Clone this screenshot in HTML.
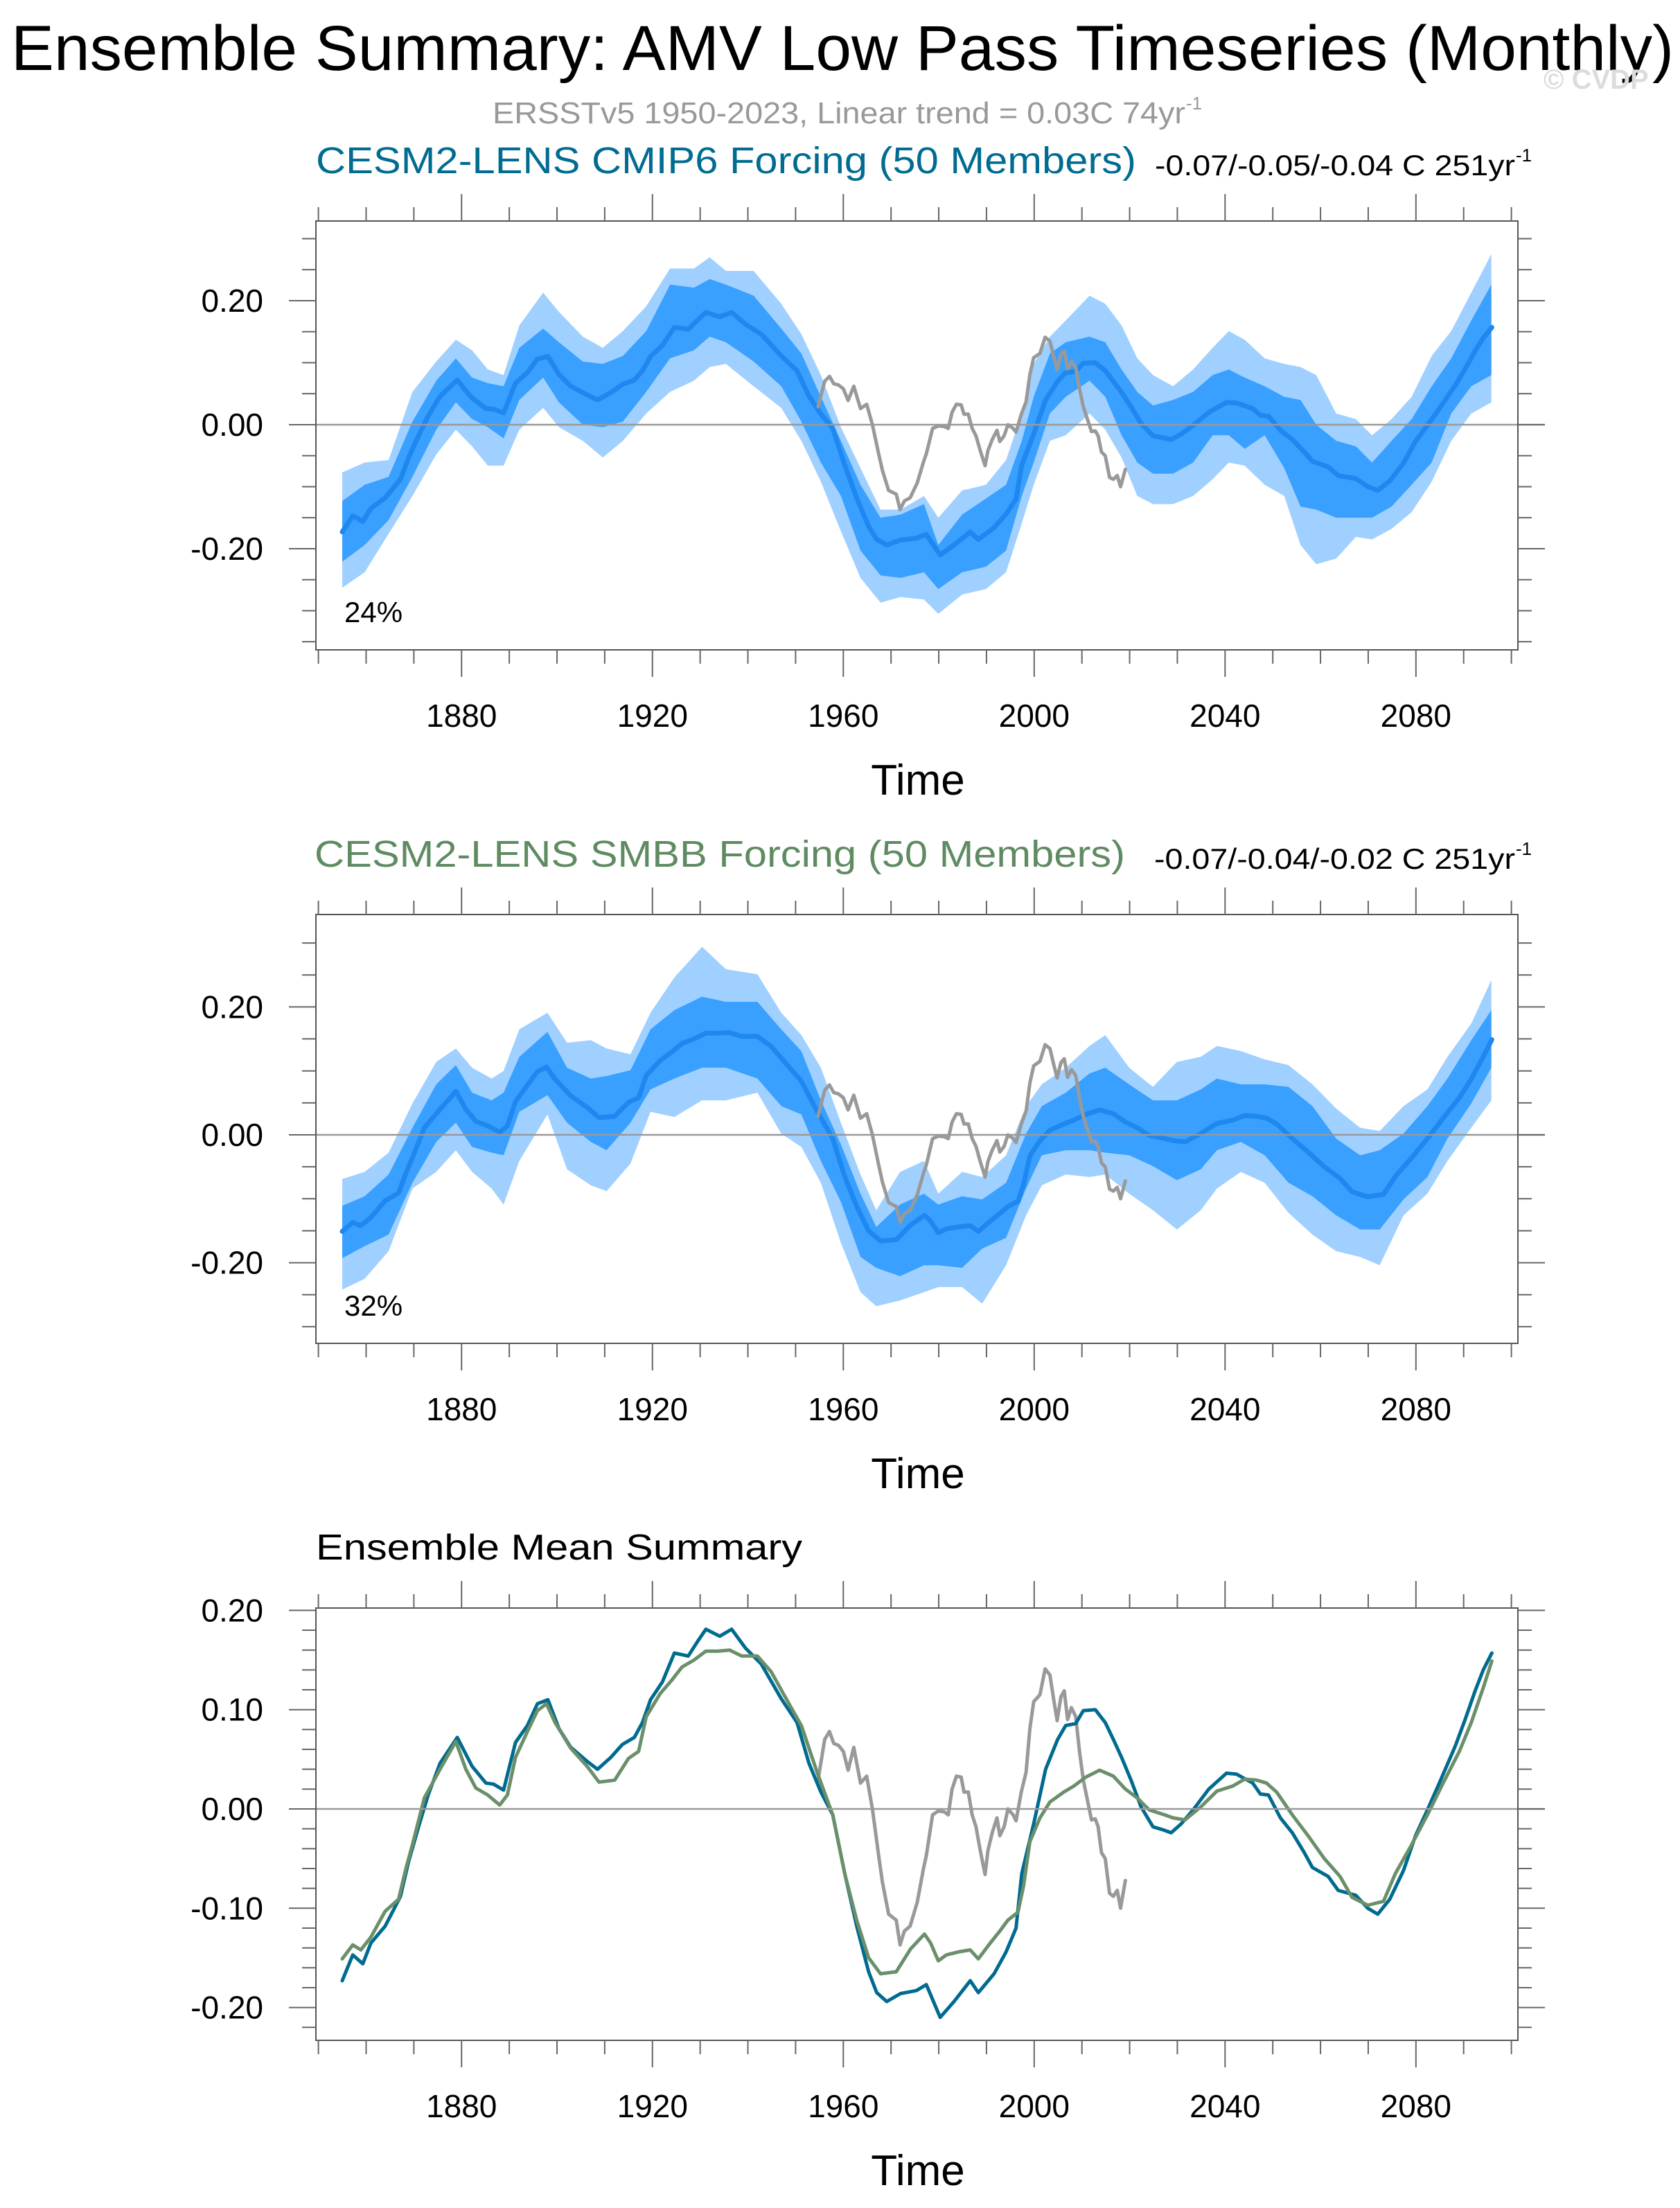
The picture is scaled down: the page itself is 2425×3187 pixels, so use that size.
<!DOCTYPE html>
<html><head><meta charset="utf-8"><style>
html,body{margin:0;padding:0;background:#fff;}
svg{display:block;font-family:"Liberation Sans",Arial,sans-serif;}
</style></head><body>
<svg id="chart" xmlns="http://www.w3.org/2000/svg" width="2425" height="3187" viewBox="0 0 2425 3187">
<rect width="2425" height="3187" fill="#fff"/>
<text x="16" y="101" font-size="92" textLength="2400" lengthAdjust="spacingAndGlyphs" fill="#000">Ensemble Summary: AMV Low Pass Timeseries (Monthly)</text>
<text x="2228" y="128" font-size="40" font-weight="bold" fill="#dcdcdc">© CVDP</text>
<text x="711" y="178" font-size="44" fill="#999" textLength="1000" lengthAdjust="spacingAndGlyphs">ERSSTv5 1950-2023, Linear trend = 0.03C 74yr</text>
<text x="1712" y="158" font-size="26" fill="#999">-1</text>

<text x="456" y="250" font-size="54" fill="#006c91" textLength="1184" lengthAdjust="spacingAndGlyphs">CESM2-LENS CMIP6 Forcing (50 Members)</text>
<text x="1667" y="253" font-size="42" fill="#000" textLength="520" lengthAdjust="spacingAndGlyphs">-0.07/-0.05/-0.04 C 251yr</text>
<text x="2188" y="233" font-size="26" fill="#000">-1</text>

<text x="454" y="1251" font-size="54" fill="#5f8b62" textLength="1170" lengthAdjust="spacingAndGlyphs">CESM2-LENS SMBB Forcing (50 Members)</text>
<text x="1666" y="1254" font-size="42" fill="#000" textLength="521" lengthAdjust="spacingAndGlyphs">-0.07/-0.04/-0.02 C 251yr</text>
<text x="2188" y="1234" font-size="26" fill="#000">-1</text>

<text x="456" y="2251" font-size="52" fill="#000" textLength="702" lengthAdjust="spacingAndGlyphs">Ensemble Mean Summary</text>
<g id="plots"></g>
</svg>
<script>
// ---- data ----
const cmipYears=[1855,1857.2,1859.3,1861,1864,1867.2,1868.9,1871,1873,1875.5,1879.1,1882.2,1885.1,1886.7,1888.8,1891.3,1893.8,1895.9,1898.1,1900.4,1902.9,1906.3,1908.5,1911.3,1913.7,1916.2,1917.9,1919.6,1922.1,1924.6,1927.5,1929.5,1931.2,1934.1,1936.6,1939.5,1942.8,1947,1950.3,1952.8,1955.3,1957.8,1960.3,1962.8,1965.3,1967,1969.1,1972,1975.3,1977.4,1980.3,1983.2,1986.6,1988.3,1991.6,1994.1,1996.2,1997.4,1999.9,2002.4,2004.9,2006.6,2008.7,2010.3,2012.8,2014.9,2016.6,2018.3,2020.3,2022.4,2024.9,2027,2028.7,2030.8,2033.3,2036.6,2040.3,2042.4,2045.8,2047.4,2049.1,2051.6,2054.1,2056.6,2058.3,2061.6,2063.7,2067.4,2069.9,2072,2074.5,2077.4,2079.9,2082.4,2084.9,2088.3,2090.3,2092.4,2094.1,2095.9];
const cmipMean=[-0.173,-0.147,-0.156,-0.135,-0.118,-0.088,-0.053,-0.018,0.014,0.046,0.072,0.043,0.026,0.025,0.019,0.067,0.084,0.106,0.11,0.081,0.062,0.048,0.040,0.052,0.065,0.072,0.087,0.11,0.128,0.157,0.154,0.169,0.181,0.174,0.181,0.162,0.146,0.111,0.087,0.046,0.017,-0.006,-0.065,-0.118,-0.164,-0.185,-0.194,-0.186,-0.183,-0.177,-0.21,-0.194,-0.173,-0.185,-0.166,-0.144,-0.12,-0.065,-0.015,0.040,0.070,0.084,0.086,0.099,0.100,0.087,0.070,0.052,0.029,0.002,-0.018,-0.021,-0.024,-0.015,-0.001,0.020,0.036,0.035,0.026,0.015,0.014,-0.009,-0.024,-0.044,-0.059,-0.068,-0.082,-0.087,-0.1,-0.106,-0.091,-0.062,-0.027,-0.001,0.026,0.064,0.09,0.119,0.14,0.157];
const smbbYears=[1855,1857.2,1858.9,1861,1864,1866.8,1868.4,1869.7,1872.2,1875.5,1878.8,1880.9,1883,1885.5,1888,1889.6,1891.3,1893.8,1895.9,1897.8,1899.6,1902.9,1906.3,1908.8,1912.1,1915,1917.1,1918.7,1921.6,1924.1,1926.2,1928.7,1931.2,1933.7,1936.2,1938.7,1942,1944.9,1947.8,1951.2,1954.5,1957.8,1960.3,1962.8,1965.3,1967.8,1971.1,1974.1,1977,1978.3,1979.9,1981.6,1984.1,1986.6,1988.3,1990.8,1992.8,1994.5,1996.6,1997.8,1999.1,2001.2,2003.3,2006.2,2008.3,2010.8,2013.7,2016.6,2019.1,2021.6,2024.1,2027.4,2029.1,2031.6,2034.9,2038.3,2041.6,2044.1,2046.6,2048.7,2050.8,2054.1,2057.4,2060.8,2064.1,2066.6,2069.9,2073.2,2075.7,2079.1,2082.4,2085.7,2089.1,2091.6,2094.1,2095.9];
const smbbMean=[-0.151,-0.137,-0.142,-0.129,-0.103,-0.091,-0.059,-0.036,0.011,0.040,0.068,0.04,0.021,0.014,0.004,0.014,0.052,0.078,0.099,0.106,0.087,0.061,0.043,0.027,0.029,0.051,0.058,0.093,0.116,0.13,0.143,0.15,0.159,0.159,0.160,0.154,0.154,0.138,0.113,0.084,0.037,-0.006,-0.065,-0.112,-0.15,-0.166,-0.164,-0.141,-0.126,-0.135,-0.153,-0.147,-0.144,-0.142,-0.151,-0.135,-0.123,-0.112,-0.104,-0.077,-0.033,-0.009,0.007,0.017,0.023,0.032,0.039,0.033,0.02,0.011,-0.001,-0.006,-0.009,-0.011,0.002,0.018,0.023,0.030,0.029,0.026,0.017,-0.006,-0.027,-0.050,-0.068,-0.089,-0.097,-0.093,-0.065,-0.036,-0.006,0.026,0.058,0.087,0.122,0.149];
const obsYears=[1954.7,1956.1,1957.1,1958,1959,1960,1961,1962.2,1963.6,1964.9,1966.1,1967.4,1968.2,1969.5,1971.1,1971.9,1972.8,1974,1975.5,1976.8,1977.4,1978.7,1979.9,1981.2,1982,1982.8,1983.7,1984.7,1985.3,1986.2,1987,1987.8,1988.7,1989.7,1990.3,1991.2,1992.2,1992.8,1993.7,1994.5,1995.6,1996.2,1997.3,1998.3,1999.1,1999.9,2001.2,2002.3,2003.3,2004.1,2004.8,2005.6,2006.3,2007,2007.8,2008.7,2009.5,2010.3,2011.2,2012,2012.8,2013.4,2014.1,2014.9,2015.8,2016.6,2017.4,2018.1,2019.1];
const obsValues=[0.029,0.07,0.078,0.066,0.064,0.058,0.039,0.062,0.026,0.033,0,-0.047,-0.074,-0.106,-0.112,-0.137,-0.123,-0.118,-0.094,-0.06,-0.047,-0.006,-0.002,-0.003,-0.006,0.02,0.033,0.032,0.017,0.017,-0.006,-0.018,-0.042,-0.066,-0.042,-0.024,-0.009,-0.027,-0.018,0,-0.006,-0.012,0.017,0.037,0.081,0.108,0.115,0.141,0.135,0.11,0.089,0.113,0.119,0.090,0.102,0.093,0.058,0.029,0.008,-0.011,-0.01,-0.018,-0.044,-0.050,-0.085,-0.088,-0.082,-0.1,-0.072];

const p1Years=[1855,1859.7,1864.7,1869.7,1874.7,1878.8,1882.2,1885.5,1888.8,1892.1,1897.1,1900.4,1905.4,1909.6,1913.8,1918.7,1923.7,1928.7,1932,1935.4,1941.2,1947,1951.2,1955.3,1959.5,1963.6,1967.8,1972,1976.9,1979.9,1984.9,1989.9,1994.1,1997.4,1999.9,2003.3,2006.6,2011.6,2014.9,2018.3,2021.6,2024.9,2029.1,2033.3,2037.4,2040.8,2044.1,2048.3,2052.4,2055.8,2059.1,2063.3,2067.4,2070.8,2074.9,2079.1,2083.3,2087.4,2091.6,2095.8];
const p1OuterHi=[-0.077,-0.061,-0.057,0.053,0.102,0.137,0.12,0.089,0.08,0.16,0.213,0.182,0.142,0.124,0.151,0.191,0.252,0.252,0.27,0.248,0.248,0.195,0.146,0.08,-0.004,-0.07,-0.137,-0.137,-0.115,-0.15,-0.106,-0.097,-0.057,0.018,0.098,0.142,0.168,0.208,0.195,0.16,0.107,0.08,0.062,0.089,0.124,0.151,0.137,0.107,0.098,0.093,0.08,0.018,0.009,-0.017,0.009,0.045,0.111,0.151,0.213,0.275];
const p1InnerHi=[-0.123,-0.097,-0.084,0.005,0.071,0.107,0.076,0.067,0.062,0.124,0.155,0.133,0.102,0.098,0.111,0.151,0.226,0.221,0.235,0.226,0.208,0.155,0.115,0.045,-0.026,-0.097,-0.15,-0.145,-0.128,-0.194,-0.145,-0.119,-0.097,-0.026,0.045,0.115,0.133,0.142,0.133,0.089,0.053,0.031,0.04,0.053,0.08,0.089,0.076,0.062,0.045,0.04,0,-0.026,-0.035,-0.061,-0.026,0.009,0.062,0.107,0.168,0.226];
const p1InnerLo=[-0.221,-0.194,-0.154,-0.084,-0.008,0.036,0.009,-0.004,-0.022,0.04,0.076,0.036,0,-0.004,0.005,0.053,0.107,0.12,0.142,0.133,0.102,0.062,0.005,-0.061,-0.115,-0.203,-0.243,-0.247,-0.238,-0.265,-0.238,-0.229,-0.203,-0.115,-0.061,0.018,0.045,0.071,0.045,-0.017,-0.061,-0.079,-0.079,-0.061,-0.017,-0.017,-0.039,-0.017,-0.07,-0.132,-0.137,-0.15,-0.15,-0.15,-0.132,-0.097,-0.061,0.018,0.062,0.08];
const p1OuterLo=[-0.263,-0.238,-0.176,-0.115,-0.048,-0.008,-0.035,-0.066,-0.066,-0.008,0.027,-0.004,-0.026,-0.053,-0.026,0.018,0.053,0.071,0.093,0.098,0.062,0.027,-0.026,-0.092,-0.172,-0.247,-0.287,-0.278,-0.282,-0.305,-0.274,-0.265,-0.238,-0.159,-0.097,-0.026,-0.017,0.018,-0.008,-0.053,-0.115,-0.128,-0.128,-0.115,-0.088,-0.061,-0.066,-0.097,-0.115,-0.194,-0.225,-0.216,-0.181,-0.185,-0.168,-0.141,-0.092,-0.026,0.018,0.036];

const p2Years=[1855,1859.7,1864.7,1869.7,1874.7,1878.8,1882.2,1886.3,1888.8,1892.1,1898,1902.1,1907.1,1910.4,1915.4,1919.6,1924.6,1930.4,1935.4,1942,1947,1951.2,1955.3,1959.5,1963.6,1966.9,1971.9,1976.9,1979.9,1984.9,1989.1,1994.1,1998.3,2001.6,2006.6,2011.6,2014.9,2019.9,2024.9,2029.9,2034.9,2038.3,2043.3,2048.3,2053.3,2058.3,2063.3,2068.3,2072.4,2077.4,2082.4,2086.6,2091.6,2095.8];
const p2OuterHi=[-0.069,-0.058,-0.028,0.049,0.114,0.135,0.105,0.088,0.1,0.165,0.191,0.144,0.148,0.135,0.126,0.191,0.246,0.294,0.259,0.251,0.191,0.156,0.105,0.019,-0.062,-0.118,-0.058,-0.041,-0.092,-0.058,-0.066,-0.032,0.045,0.079,0.105,0.139,0.156,0.105,0.075,0.114,0.122,0.139,0.131,0.118,0.109,0.079,0.041,0.011,0.006,0.045,0.071,0.122,0.174,0.242];
const p2InnerHi=[-0.111,-0.096,-0.062,0.011,0.079,0.109,0.066,0.054,0.066,0.122,0.161,0.105,0.088,0.092,0.101,0.165,0.195,0.216,0.208,0.208,0.165,0.131,0.054,-0.015,-0.092,-0.144,-0.109,-0.092,-0.109,-0.096,-0.101,-0.075,0.002,0.045,0.066,0.096,0.105,0.079,0.054,0.054,0.071,0.088,0.079,0.079,0.075,0.045,-0.006,-0.032,-0.024,0.002,0.045,0.088,0.148,0.195];
const p2InnerLo=[-0.193,-0.174,-0.156,-0.075,-0.011,0.019,-0.019,-0.028,-0.032,0.036,0.062,0.019,-0.011,-0.024,0.019,0.071,0.088,0.105,0.105,0.088,0.045,0.032,-0.041,-0.105,-0.191,-0.208,-0.221,-0.204,-0.204,-0.208,-0.178,-0.161,-0.084,-0.032,-0.024,-0.024,-0.028,-0.032,-0.049,-0.071,-0.054,-0.024,-0.011,-0.032,-0.075,-0.096,-0.126,-0.148,-0.148,-0.101,-0.066,-0.006,0.049,0.105];
const p2OuterLo=[-0.242,-0.225,-0.182,-0.084,-0.058,-0.024,-0.058,-0.084,-0.109,-0.041,0.032,-0.054,-0.079,-0.088,-0.045,0.036,0.028,0.054,0.054,0.066,0.002,-0.019,-0.075,-0.169,-0.246,-0.268,-0.259,-0.246,-0.238,-0.238,-0.264,-0.204,-0.126,-0.079,-0.062,-0.066,-0.062,-0.092,-0.118,-0.148,-0.118,-0.084,-0.058,-0.075,-0.122,-0.156,-0.182,-0.191,-0.204,-0.126,-0.092,-0.041,0.011,0.054];

const xTickLabels=["1880","1920","1960","2000","2040","2080"];
const p12YTickLabels=["0.20","0.00","-0.20"];
const p3YTickLabels=["0.20","0.10","0.00","-0.10","-0.20"];

// ---- layout ----
const NS="http://www.w3.org/2000/svg";
const root=document.getElementById('plots');
const X0=456,X1=2191;
function xScale(yr){return 459.6+(yr-1850)*6.888;}
function mk(tag,attrs,parent){const e=document.createElementNS(NS,tag);for(const k in attrs)e.setAttribute(k,attrs[k]);(parent||root).appendChild(e);return e;}
function pts(xs,ys,yS){return xs.map((x,i)=>xScale(x).toFixed(1)+','+yS(ys[i]).toFixed(1));}

function panel(o){
  const g=mk('g',{});
  
  
  const yS=v=>o.zeroY-v*o.k;
  const clipId=o.name+'-clip';
  const cp=mk('clipPath',{id:clipId},g);mk('rect',{x:X0,y:o.top,width:X1-X0,height:o.bot-o.top},cp);
  const body=mk('g',{'clip-path':'url(#'+clipId+')'},g);
  if(o.bands){
    const b=o.bands;
    const outer=mk('polygon',{points:pts(b.yrs,b.oh,yS).concat(pts(b.yrs,b.ol,yS).reverse()).join(' '),fill:'#a0d0ff'},body);
    
    
    const inner=mk('polygon',{points:pts(b.yrs,b.ih,yS).concat(pts(b.yrs,b.il,yS).reverse()).join(' '),fill:'#3aa0ff'},body);
    
    
  }
  const zl=mk('line',{x1:X0,x2:X1+39,y1:yS(0),y2:yS(0),stroke:'#999','stroke-width':2.5},g);
  
  
  o.lines.forEach(l=>{
    const p=mk('polyline',{points:pts(l.x,l.y,yS).join(' '),fill:'none',stroke:l.c,'stroke-width':l.w,'stroke-linejoin':'round','stroke-linecap':'round'},body);
    
    
  });
  const fr=mk('rect',{x:X0,y:o.top,width:X1-X0,height:o.bot-o.top,fill:'none',stroke:'#555','stroke-width':2},g);
  
  
  const tk=mk('g',{stroke:'#666','stroke-width':2},g);
  
  
  for(let yr=1850;yr<=2100;yr+=10){
    const x=xScale(yr),maj=((yr-1880)%40===0),L=maj?39:20;
    mk('line',{x1:x,x2:x,y1:o.top,y2:o.top-L},tk);
    mk('line',{x1:x,x2:x,y1:o.bot,y2:o.bot+L},tk);
  }
  for(let i=0;i<=o.nMinor;i++){
    const v=o.minStart+i*o.minStep,y=yS(v);
    const maj=o.majors.some(m=>Math.abs(m-v)<1e-6),L=maj?39:20;
    mk('line',{x1:X0,x2:X0-L,y1:y,y2:y},tk);
    mk('line',{x1:X1,x2:X1+L,y1:y,y2:y},tk);
  }
  o.majors.forEach((v,i)=>{
    const t=mk('text',{x:380,y:yS(v)+16,'font-size':46,'text-anchor':'end',fill:'#000'},g);
    t.textContent=o.yLabels[i];
    
    
  });
  xTickLabels.forEach(s=>{
    const t=mk('text',{x:xScale(+s),y:o.bot+111,'font-size':46,'text-anchor':'middle',fill:'#000'},g);
    t.textContent=s;
    
    
  });
  const xt=mk('text',{x:1325,y:o.bot+209,'font-size':62,'text-anchor':'middle',fill:'#000'},g);
  xt.textContent='Time';
  
  
  if(o.pct){
    const pt=mk('text',{x:497,y:o.pctY,'font-size':42,fill:'#000'},g);
    pt.textContent=o.pct;
    
    
  }
}

panel({name:'panel-cmip6',top:319,bot:938,zeroY:613,k:895,nMinor:13,minStart:-0.35,minStep:0.05,majors:[0.2,0,-0.2],yLabels:p12YTickLabels,
  bands:{yrs:p1Years,oh:p1OuterHi,ih:p1InnerHi,il:p1InnerLo,ol:p1OuterLo},pct:'24%',pctY:898,
  lines:[{name:'cmip6-ensemble-mean',x:cmipYears,y:cmipMean,c:'#1e88f0',w:7},{name:'observed-amv',x:obsYears,y:obsValues,c:'#999',w:5}]});
panel({name:'panel-smbb',top:1320,bot:1939,zeroY:1638,k:923,nMinor:12,minStart:-0.30,minStep:0.05,majors:[0.2,0,-0.2],yLabels:p12YTickLabels,
  bands:{yrs:p2Years,oh:p2OuterHi,ih:p2InnerHi,il:p2InnerLo,ol:p2OuterLo},pct:'32%',pctY:1899,
  lines:[{name:'smbb-ensemble-mean',x:smbbYears,y:smbbMean,c:'#1e88f0',w:7},{name:'observed-amv',x:obsYears,y:obsValues,c:'#999',w:5}]});
panel({name:'panel-ensemble-means',top:2321,bot:2945,zeroY:2611,k:1433,nMinor:21,minStart:-0.22,minStep:0.02,majors:[0.2,0.1,0,-0.1,-0.2],yLabels:p3YTickLabels,
  lines:[{name:'observed-amv',x:obsYears,y:obsValues,c:'#999',w:5},{name:'cmip6-mean-line',x:cmipYears,y:cmipMean,c:'#006b8f',w:5},{name:'smbb-mean-line',x:smbbYears,y:smbbMean,c:'#6a8f6a',w:5}]});
</script>
</body></html>
